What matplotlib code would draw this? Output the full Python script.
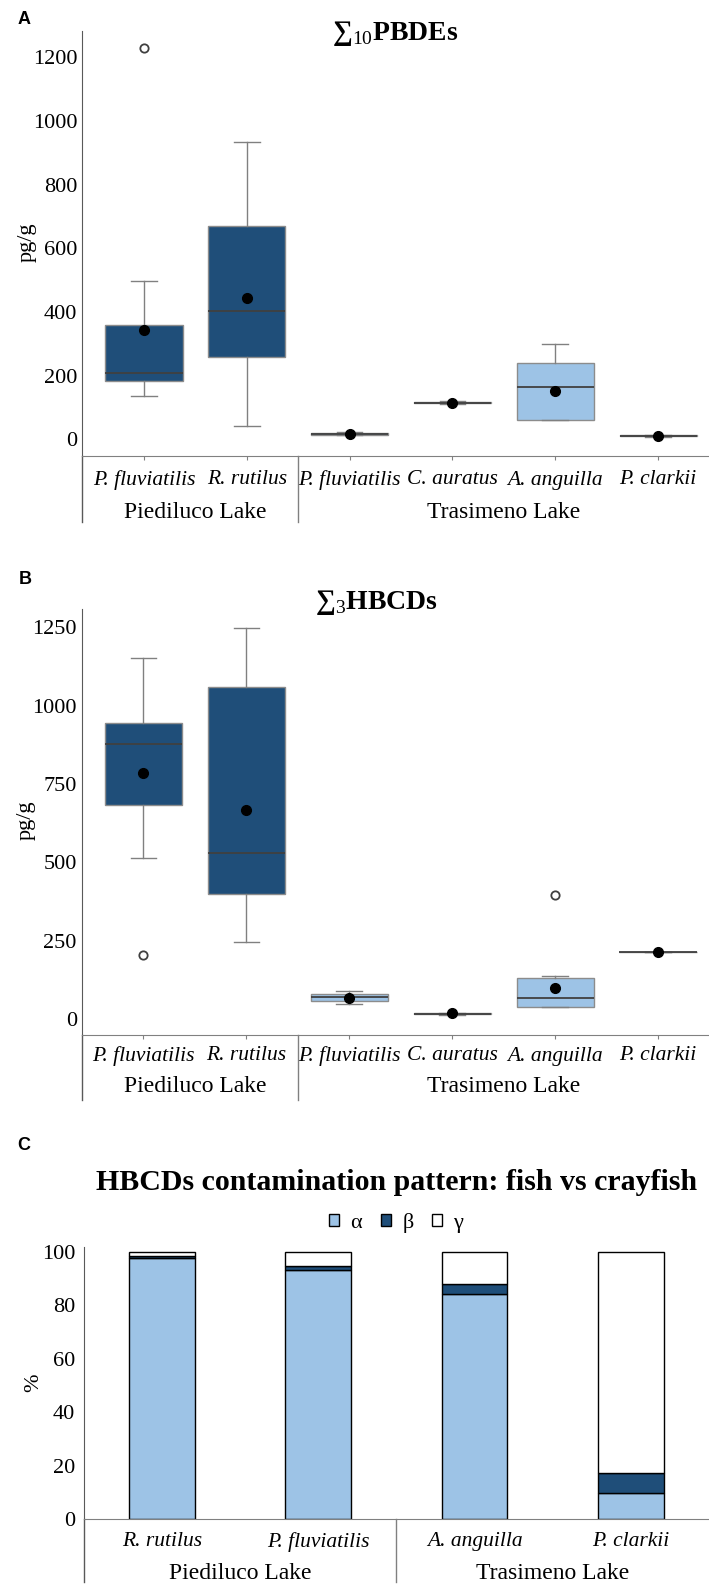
"""Box plots of PBDE / HBCD levels per species and HBCD isomer pattern."""

import matplotlib

matplotlib.use("Agg")
import matplotlib.pyplot as plt
import matplotlib.transforms as mtransforms
from matplotlib.patches import Patch
from matplotlib.lines import Line2D

# ---- data -------------------------------------------------------------
species = ["P. fluviatilis", "R. rutilus", "P. fluviatilis",
           "C. auratus", "A. anguilla", "P. clarkii"]
lakes = ["Piediluco Lake", "Piediluco Lake", "Trasimeno Lake",
         "Trasimeno Lake", "Trasimeno Lake", "Trasimeno Lake"]

# Σ10PBDEs (pg/g)
pbde_q1 = [184, 257, 15, 113, 61, 9]
pbde_med = [207, 403, 17, 115, 163, 11]
pbde_q3 = [359, 671, 20, 117, 239, 13]
pbde_lo = [137, 42, 13, 111, 61, 8]
pbde_hi = [497, 934, 22, 119, 299, 14]
pbde_mean = [343, 445, 17, 115, 153, 11]
pbde_out = [[1230], [], [], [], [], []]

# Σ3HBCDs (pg/g)
hbcd_q1 = [682, 400, 58, 16, 40, 214]
hbcd_med = [877, 531, 70, 18, 67, 214]
hbcd_q3 = [946, 1059, 81, 20, 132, 214]
hbcd_lo = [515, 247, 48, 15, 38, 214]
hbcd_hi = [1152, 1247, 91, 21, 139, 214]
hbcd_mean = [784, 667, 69, 19, 99, 214]
hbcd_out = [[205], [], [], [], [396], []]

# HBCD isomer pattern (%)
pat_species = ["R. rutilus", "P. fluviatilis", "A. anguilla", "P. clarkii"]
pat_lakes = ["Piediluco Lake", "Piediluco Lake", "Trasimeno Lake", "Trasimeno Lake"]
alpha_pct = [97.8, 93.4, 84.3, 9.9]
beta_pct = [0.6, 1.2, 3.6, 7.4]
gamma_pct = [1.6, 5.4, 12.1, 82.7]

DARK = "#1f4e79"
LIGHT = "#9dc3e6"
GREY = "#808080"
SERIF = "Liberation Serif"

plt.rcParams["font.family"] = [SERIF, "DejaVu Serif"]
plt.rcParams["mathtext.fontset"] = "custom"
plt.rcParams["mathtext.rm"] = SERIF

W, H = 709, 1585
fig = plt.figure(figsize=(W / 100, H / 100), dpi=100)


def px_axes(left, top, right, bottom):
    """axes from pixel box (origin top-left)"""
    return fig.add_axes([left / W, 1 - bottom / H, (right - left) / W, (bottom - top) / H])


def style_axes(ax, ypad):
    for s in ["top", "right"]:
        ax.spines[s].set_visible(False)
    ax.spines["left"].set_color("#595959")
    ax.spines["bottom"].set_color(GREY)
    ax.tick_params(axis="y", length=0, pad=ypad, labelsize=16)
    ax.tick_params(axis="x", length=3, color=GREY, labelbottom=False)


def group_axis(ax, names, groups, name_dy, group_dy, line_dy):
    """species labels, lake labels and separators under the x axis"""
    h_px = ax.get_position().height * H
    tb = mtransforms.blended_transform_factory(ax.transData, ax.transAxes)
    pos = list(range(len(names)))
    ax.set_xticks(pos)
    for x, name in zip(pos, names):
        ax.text(x, -name_dy / h_px, name, transform=tb, ha="center", va="center",
                fontsize=15.5, style="italic")
    # lake labels / separators
    start = 0
    for i in range(1, len(groups) + 1):
        if i == len(groups) or groups[i] != groups[start]:
            ax.text((start + i - 1) / 2, -group_dy / h_px, groups[start], transform=tb,
                    ha="center", va="center", fontsize=17)
            if i < len(groups):
                ax.add_line(Line2D([i - 0.5, i - 0.5], [0, -line_dy / h_px], transform=tb,
                                   color=GREY, lw=1, clip_on=False))
            start = i
    ax.add_line(Line2D([0, 0], [0, -line_dy / h_px], transform=ax.transAxes,
                       color="#595959", lw=1, clip_on=False))


def draw_boxes(ax, q1, med, q3, lo, hi, mean, out):
    stats = []
    for i in range(len(q1)):
        stats.append(dict(q1=q1[i], med=med[i], q3=q3[i], whislo=lo[i], whishi=hi[i],
                          mean=mean[i], fliers=out[i]))
    bp = ax.bxp(stats, positions=range(len(stats)), widths=0.75, capwidths=0.25,
                showmeans=True, patch_artist=True,
                boxprops=dict(edgecolor="#8c8c8c", linewidth=1),
                medianprops=dict(color="#404040", linewidth=1.3),
                whiskerprops=dict(color=GREY, linewidth=1),
                capprops=dict(color=GREY, linewidth=1),
                meanprops=dict(marker="o", markerfacecolor="black", markeredgecolor="black",
                               markersize=7, zorder=5),
                flierprops=dict(marker="o", markerfacecolor="none", markeredgecolor="#404040",
                                markersize=6, markeredgewidth=1.3))
    for patch, lake in zip(bp["boxes"], lakes):
        patch.set_facecolor(DARK if lake == "Piediluco Lake" else LIGHT)


def panel_letter(x, y, s):
    fig.text(x / W, 1 - y / H, s, ha="center", va="center", fontsize=13,
             fontweight="bold", family="Liberation Sans")


# ---- A: PBDEs -----------------------------------------------------------
axA = px_axes(82.3, 30.7, 709.5, 456)
draw_boxes(axA, pbde_q1, pbde_med, pbde_q3, pbde_lo, pbde_hi, pbde_mean, pbde_out)
axA.set_xlim(-0.6, 5.5)
axA.set_ylim(-52.4, 1283)
axA.set_yticks([0, 200, 400, 600, 800, 1000, 1200])
style_axes(axA, 3.5)
group_axis(axA, species, lakes, 24, 56, 66)
axA.text(0.4986, 0.978, "∑$_{\\mathrm{10}}$PBDEs", transform=axA.transAxes, ha="center",
         va="baseline", fontsize=20, fontweight="bold")
axA.text(-0.088, 0.503, "pg/g", transform=axA.transAxes, rotation=90, ha="center",
         va="center", fontsize=16)
panel_letter(24, 19, "A")

# ---- B: HBCDs -----------------------------------------------------------
axB = px_axes(81.7, 609, 709.5, 1035)
draw_boxes(axB, hbcd_q1, hbcd_med, hbcd_q3, hbcd_lo, hbcd_hi, hbcd_mean, hbcd_out)
axB.set_xlim(-0.6, 5.5)
axB.set_ylim(-50, 1308)
axB.set_yticks([0, 250, 500, 750, 1000, 1250])
style_axes(axB, 3.5)
group_axis(axB, species, lakes, 21, 52, 65)
axB.text(0.47, 1.0, "∑$_{\\mathrm{3}}$HBCDs", transform=axB.transAxes, ha="center",
         va="baseline", fontsize=20, fontweight="bold")
axB.text(-0.088, 0.505, "pg/g", transform=axB.transAxes, rotation=90, ha="center",
         va="center", fontsize=16)
panel_letter(25, 580, "B")

# ---- C: isomer pattern --------------------------------------------------
axC = px_axes(83.7, 1246.5, 709, 1519.3)
xc = range(len(pat_species))
bottom2 = [a + b for a, b in zip(alpha_pct, beta_pct)]
axC.bar(xc, alpha_pct, width=0.42, color=LIGHT, edgecolor="black", linewidth=1, label="α")
axC.bar(xc, beta_pct, width=0.42, bottom=alpha_pct, color=DARK, edgecolor="black",
        linewidth=1, label="β")
axC.bar(xc, gamma_pct, width=0.42, bottom=bottom2, color="white", edgecolor="black",
        linewidth=1, label="γ")
axC.set_xlim(-0.5, 3.5)
axC.set_ylim(0, 102)
axC.set_yticks([0, 20, 40, 60, 80, 100])
style_axes(axC, 6)
axC.tick_params(axis="x", length=0)
group_axis(axC, pat_species, pat_lakes, 22.5, 54, 63)
axC.text(0.501, 1.207, "HBCDs contamination pattern: fish vs crayfish",
         transform=axC.transAxes, ha="center", va="baseline", fontsize=21.5,
         fontweight="bold")
handles = [Patch(facecolor=c, edgecolor="black", linewidth=1) for c in [LIGHT, DARK, "white"]]
axC.legend(handles, ["α", "β", "γ"], loc="center", bbox_to_anchor=(0.5, 1.086), ncol=3,
           frameon=False, fontsize=16, handlelength=0.45, handleheight=0.45,
           handletextpad=0.5, columnspacing=0.85)
axC.text(-0.0795, 0.5, "%", transform=axC.transAxes, rotation=90, ha="center",
         va="center", fontsize=16)
panel_letter(24, 1145, "C")

fig.savefig("out.png", dpi=100)
